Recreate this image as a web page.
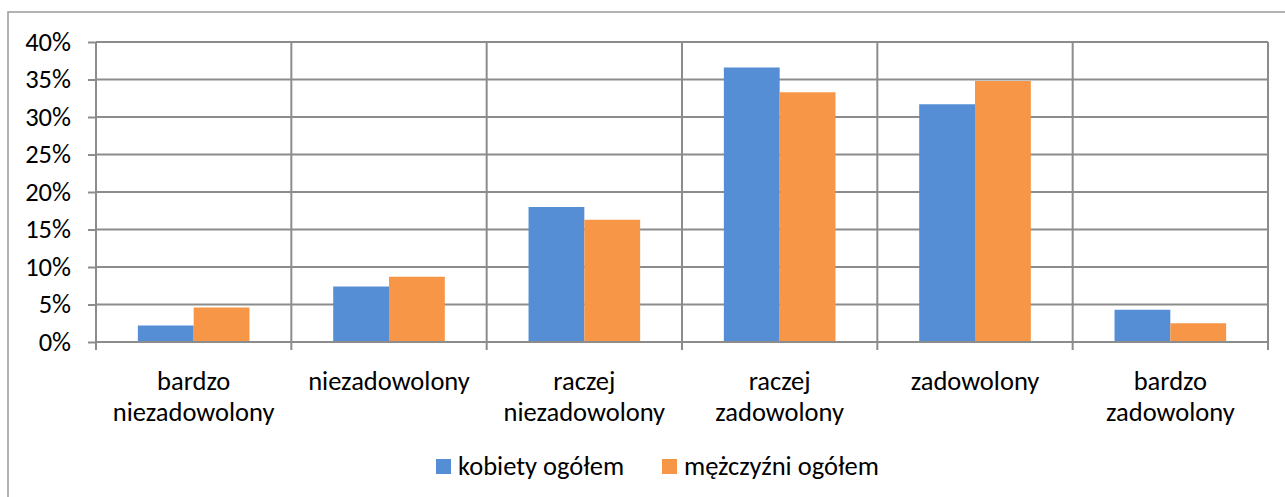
<!DOCTYPE html>
<html>
<head>
<meta charset="utf-8">
<script src="https://cdn.jsdelivr.net/npm/d3@7"></script>
<style>
  body { margin: 0; background: #fff; }
  text { font-family: Carlito, Calibri, Lato, sans-serif; fill: #000; }
</style>
</head>
<body>
<div id="chart"></div>
<script>
// Data
const categories = [
  ["bardzo", "niezadowolony"],
  ["niezadowolony"],
  ["raczej", "niezadowolony"],
  ["raczej", "zadowolony"],
  ["zadowolony"],
  ["bardzo", "zadowolony"],
];
const seriesNames = ["kobiety ogółem", "mężczyźni ogółem"];
const kobiety = [0.022, 0.074, 0.18, 0.366, 0.317, 0.043];
const mezczyzni = [0.046, 0.087, 0.163, 0.333, 0.348, 0.025];
const yTicks = [0, 0.05, 0.1, 0.15, 0.2, 0.25, 0.3, 0.35, 0.4];
const colors = ["#558ed5", "#f79646"];

function draw() {
  // Dimensions
  let dimensions = {
    width: 1285,
    height: 497,
    plotLeft: 96,
    plotRight: 1268,
    plotTop: 42,
    plotBottom: 342,
    fontSize: "26.5px",
  };

  const svg = d3
    .select("#chart")
    .append("svg")
    .attr("width", dimensions.width)
    .attr("height", dimensions.height);

  // Chart frame (runs off the right and bottom edges)
  svg
    .append("rect")
    .attr("x", 8)
    .attr("y", 12)
    .attr("width", 1300)
    .attr("height", 520)
    .attr("fill", "#fff")
    .attr("stroke", "#9a9a9a")
    .attr("stroke-width", 1.5);

  // Scales
  const idx = d3.range(categories.length);
  const xScale = d3
    .scaleBand()
    .domain(idx)
    .range([dimensions.plotLeft, dimensions.plotRight]);

  const xSub = d3
    .scaleBand()
    .domain(d3.range(seriesNames.length))
    .range([0, xScale.bandwidth()])
    .paddingInner(0)
    .paddingOuter(0.75);

  const yScale = d3
    .scaleLinear()
    .domain([0, 0.4])
    .range([dimensions.plotBottom, dimensions.plotTop]);

  const gridColor = "#8c8c8c";

  // Horizontal grid + y axis labels
  const yAxis = d3
    .axisLeft(yScale)
    .tickValues(yTicks)
    .tickFormat(d3.format(".0%"))
    .tickSize(8)
    .tickPadding(17);

  const yAxisGroup = svg
    .append("g")
    .attr("transform", `translate(${dimensions.plotLeft},0)`)
    .call(yAxis);
  yAxisGroup.select(".domain").remove();
  yAxisGroup.selectAll(".tick line").attr("stroke", gridColor).attr("stroke-width", 2);
  yAxisGroup
    .selectAll(".tick text")
    .style("font-size", dimensions.fontSize)
    .style("font-family", "Carlito, Calibri, Lato, sans-serif");

  svg
    .append("g")
    .selectAll("line")
    .data(yTicks)
    .join("line")
    .attr("x1", dimensions.plotLeft)
    .attr("x2", dimensions.plotRight)
    .attr("y1", (d) => yScale(d))
    .attr("y2", (d) => yScale(d))
    .attr("stroke", gridColor)
    .attr("stroke-width", 2);

  // Vertical grid at category boundaries (extends below axis as ticks)
  const bounds = idx.map((i) => xScale(i)).concat([dimensions.plotRight]);
  svg
    .append("g")
    .selectAll("line")
    .data(bounds)
    .join("line")
    .attr("x1", (d) => d)
    .attr("x2", (d) => d)
    .attr("y1", dimensions.plotTop)
    .attr("y2", dimensions.plotBottom + 8)
    .attr("stroke", gridColor)
    .attr("stroke-width", 2);

  // Bars
  const series = [kobiety, mezczyzni];
  const barsGroup = svg.append("g");
  series.forEach((values, s) => {
    barsGroup
      .append("g")
      .selectAll("rect")
      .data(values)
      .join("rect")
      .attr("x", (d, i) => xScale(i) + xSub(s))
      .attr("width", xSub.bandwidth())
      .attr("y", (d) => yScale(d))
      .attr("height", (d) => yScale(0) - yScale(d))
      .attr("fill", colors[s]);
  });

  // Redraw baseline over bars
  svg
    .append("line")
    .attr("x1", dimensions.plotLeft)
    .attr("x2", dimensions.plotRight)
    .attr("y1", yScale(0))
    .attr("y2", yScale(0))
    .attr("stroke", gridColor)
    .attr("stroke-width", 2);

  // Category labels
  const labels = svg
    .append("g")
    .selectAll("text")
    .data(categories)
    .join("text")
    .attr("text-anchor", "middle")
    .style("font-size", dimensions.fontSize);

  labels
    .selectAll("tspan")
    .data((d, i) => d.map((line) => ({ line, i })))
    .join("tspan")
    .attr("x", (d) => xScale(d.i) + xScale.bandwidth() / 2)
    .attr("y", (d, j) => 390 + j * 31)
    .text((d) => d.line);

  // Legend
  const legendX = [436, 662];
  const legend = svg
    .append("g")
    .selectAll("g")
    .data(seriesNames)
    .join("g")
    .attr("transform", (d, i) => `translate(${legendX[i]},459)`);

  legend
    .append("rect")
    .attr("width", 15)
    .attr("height", 15)
    .attr("fill", (d, i) => colors[i]);

  legend
    .append("text")
    .attr("x", 22)
    .attr("y", 16)
    .style("font-size", dimensions.fontSize)
    .text((d) => d);
}

draw();
</script>
</body>
</html>
